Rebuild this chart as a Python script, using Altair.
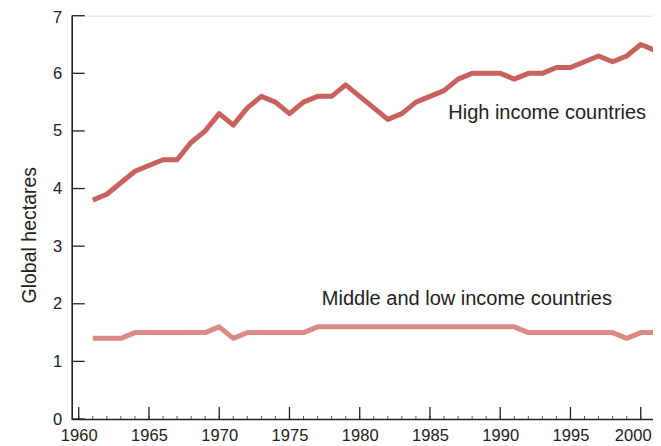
import altair as alt
import pandas as pd

years = list(range(1961, 2002))
high_income = [3.8, 3.9, 4.1, 4.3, 4.4, 4.5, 4.5, 4.8, 5.0, 5.3,
               5.1, 5.4, 5.6, 5.5, 5.3, 5.5, 5.6, 5.6, 5.8, 5.6,
               5.4, 5.2, 5.3, 5.5, 5.6, 5.7, 5.9, 6.0, 6.0, 6.0,
               5.9, 6.0, 6.0, 6.1, 6.1, 6.2, 6.3, 6.2, 6.3, 6.5, 6.4]
mid_low_income = [1.4, 1.4, 1.4, 1.5, 1.5, 1.5, 1.5, 1.5, 1.5, 1.6,
                  1.4, 1.5, 1.5, 1.5, 1.5, 1.5, 1.6, 1.6, 1.6, 1.6,
                  1.6, 1.6, 1.6, 1.6, 1.6, 1.6, 1.6, 1.6, 1.6, 1.6,
                  1.6, 1.5, 1.5, 1.5, 1.5, 1.5, 1.5, 1.5, 1.4, 1.5, 1.5]
series_names = ["High income countries", "Middle and low income countries"]
series_colors = ["#c9625e", "#dc8a85"]
x_tick_years = list(range(1960, 2001, 5))
minor_tick_years = list(range(1960, 2001))
y_ticks = list(range(0, 8))
label_names = ["High income countries", "Middle and low income countries"]
label_years = [1986.3, 1977.3]
label_values = [5.20, 1.97]

PX_PER_YEAR = 14.05
W = 581.3
H = 403.3
FONT = "Liberation Sans"

df = pd.DataFrame({
    "year": years * 2,
    "value": high_income + mid_low_income,
    "series": [series_names[0]] * len(years) + [series_names[1]] * len(years),
})

xscale = alt.Scale(domain=[1959.5, 1959.5 + W / PX_PER_YEAR], nice=False, zero=False)
yscale = alt.Scale(domain=[0, 7], nice=False, zero=True)

x_axis = alt.Axis(values=x_tick_years, format="d", ticks=False, title="",
                  labelFontSize=16.5, labelFont=FONT, labelColor="#222222",
                  labelPadding=8, domainColor="#222222",
                  domainWidth=1.6, grid=False, labelFlush=False,
                  labelOffset={"condition": {"test": "datum.value == 2000", "value": -8},
                               "value": 0})
y_axis = alt.Axis(values=y_ticks, ticks=False, title="Global hectares",
                  labelFontSize=16.5, labelFont=FONT, labelColor="#222222",
                  labelPadding=10, domainColor="#222222", domainWidth=1.6,
                  grid=False, titleFont=FONT, titleFontSize=19.5,
                  titleFontWeight="normal", titleColor="#222222",
                  titleAngle=270, titleX=-36.5, titleY=219,
                  titleAlign="center", titleBaseline="alphabetic",
                  labelOffset={"condition": {"test": "datum.value == 7", "value": 1.5},
                               "value": 0})

lines = alt.Chart(df).mark_line(strokeWidth=5, strokeJoin="round").encode(
    x=alt.X("year:Q", scale=xscale, axis=x_axis),
    y=alt.Y("value:Q", scale=yscale, axis=y_axis),
    color=alt.Color("series:N", scale=alt.Scale(domain=series_names, range=series_colors),
                    legend=None),
    detail="series:N",
)

ydf = pd.DataFrame({"v": y_ticks})
yticks = alt.Chart(ydf).mark_rule(color="#222222", strokeWidth=1.3).encode(
    y=alt.Y("v:Q", scale=yscale, axis=y_axis),
    x=alt.value(0), x2=alt.value(13),
)

xdf = pd.DataFrame({"yr": x_tick_years})
xticks = alt.Chart(xdf).mark_rule(color="#222222", strokeWidth=1.3).encode(
    x=alt.X("yr:Q", scale=xscale, axis=x_axis),
    y=alt.value(H), y2=alt.value(H - 12),
)

mdf = pd.DataFrame({"yr": minor_tick_years})
mticks = alt.Chart(mdf).mark_rule(color="#555555", strokeWidth=1).encode(
    x=alt.X("yr:Q", scale=xscale, axis=x_axis),
    y=alt.value(H), y2=alt.value(H - 3),
)

ldf = pd.DataFrame({"name": label_names, "yr": label_years, "v": label_values})
labels = alt.Chart(ldf).mark_text(align="left", baseline="alphabetic", fontSize=20,
                                  font=FONT, color="#222222").encode(
    x=alt.X("yr:Q", scale=xscale, axis=x_axis),
    y=alt.Y("v:Q", scale=yscale, axis=y_axis),
    text="name:N",
)

chart = alt.layer(lines, mticks, xticks, yticks, labels).properties(
    width=W, height=H,
    autosize=alt.AutoSizeParams(type="none"),
    padding={"left": 63.7, "top": 7.7, "right": 0, "bottom": 27},
).configure_view(strokeOpacity=0).configure(background="white")

chart.save("out.html", embed_options={"renderer": "svg", "actions": False})
